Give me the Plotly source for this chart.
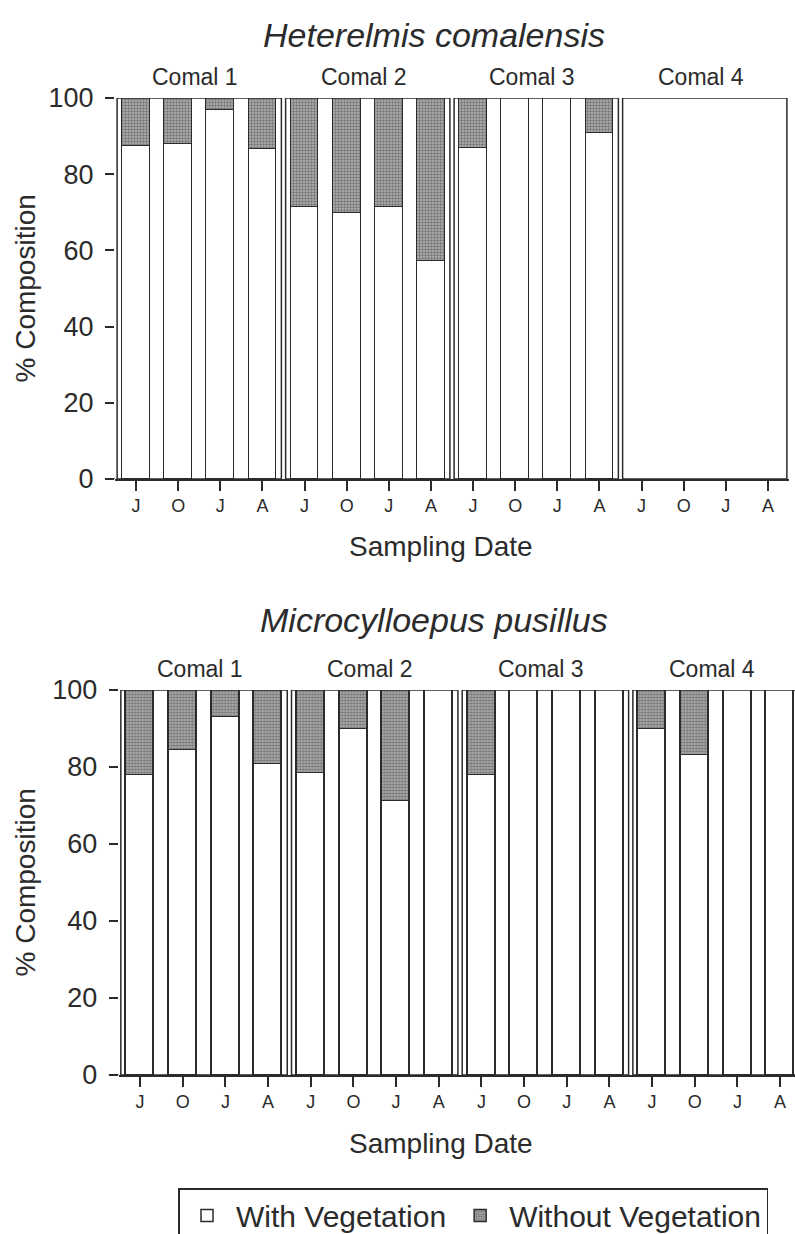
import plotly.graph_objects as go

# ---------------- data ----------------
sites = ["Comal 1", "Comal 2", "Comal 3", "Comal 4"]
months = ["J", "O", "J", "A"]

# Heterelmis comalensis (% composition)
hetero_with = [87.4, 88.0, 96.8, 86.6,
               71.4, 69.8, 71.4, 57.2,
               86.9, 100.0, 100.0, 90.8,
               None, None, None, None]
hetero_without = [12.6, 12.0, 3.2, 13.4,
                  28.6, 30.2, 28.6, 42.8,
                  13.1, 0.0, 0.0, 9.2,
                  None, None, None, None]

# Microcylloepus pusillus (% composition)
micro_with = [78.0, 84.4, 93.0, 80.8,
              78.4, 90.0, 71.2, 100.0,
              78.0, 100.0, 100.0, 100.0,
              90.0, 83.0, 100.0, 100.0]
micro_without = [22.0, 15.6, 7.0, 19.2,
                 21.6, 10.0, 28.8, 0.0,
                 22.0, 0.0, 0.0, 0.0,
                 10.0, 17.0, 0.0, 0.0]

titles = ["Heterelmis comalensis", "Microcylloepus pusillus"]
yticks = [0, 20, 40, 60, 80, 100]

# ---------------- styling ----------------
W, H = 795, 1234
INK = "#2b2b2b"
FONT = "Liberation Sans, Arial, sans-serif"
n = len(sites) * len(months)
xpos = list(range(n))
ticktext = months * len(sites)
BARW = 0.66

with_style = dict(color="white", line=dict(color=INK, width=1.5))
without_style = dict(color="#a8a8a8", line=dict(color=INK, width=1.5),
                     pattern=dict(shape=".", fgcolor="#333333", bgcolor="#b4b4b4",
                                  size=3, solidity=0.5, fillmode="overlay"))

fig = go.Figure()
panels = [(hetero_with, hetero_without, "x", "y"),
          (micro_with, micro_without, "x2", "y2")]
for i, (w, wo, xa, ya) in enumerate(panels):
    fig.add_trace(go.Bar(x=xpos, y=w, width=BARW, marker=with_style,
                         name="With Vegetation", legendgroup="w",
                         showlegend=(i == 0), xaxis=xa, yaxis=ya))
    fig.add_trace(go.Bar(x=xpos, y=wo, width=BARW, marker=without_style,
                         name="Without Vegetation", legendgroup="wo",
                         showlegend=(i == 0), xaxis=xa, yaxis=ya))

# panel geometry (pixels -> paper)
top_y = ((H - 479) / H, (H - 98) / H)
bot_y = ((H - 1075) / H, (H - 690) / H)
top_x = (115 / W, 789 / W)
bot_x = (118.7 / W, 1.0)
top_range = [-0.5, 15.5]
bot_range = [-0.5, -0.5 + (W - 118.7) / 42.67]

def xaxis(domain, rng, anchor):
    return dict(domain=list(domain), range=rng, anchor=anchor, automargin=False,
                tickvals=xpos, ticktext=ticktext, ticks="outside",
                ticklen=10, tickwidth=1.5, tickcolor=INK,
                showline=True, linecolor=INK, linewidth=1.5,
                showgrid=False, zeroline=False,
                tickfont=dict(size=18, color=INK, family=FONT))

def yaxis(domain, anchor):
    return dict(domain=list(domain), range=[0, 100], anchor=anchor,
                automargin=False,
                tickvals=yticks, ticks="outside", ticklen=9, tickwidth=1.5,
                tickcolor=INK, showline=False, showgrid=False, zeroline=False,
                ticklabelstandoff=6,
                tickfont=dict(size=27, color=INK, family=FONT))

fig.update_layout(
    width=W, height=H, barmode="stack", bargap=0,
    paper_bgcolor="white", plot_bgcolor="white",
    margin=dict(l=0, r=0, t=0, b=0, autoexpand=False),
    font=dict(family=FONT, color=INK),
    xaxis=xaxis(top_x, top_range, "y"),
    yaxis=yaxis(top_y, "x"),
    xaxis2=xaxis(bot_x, bot_range, "y2"),
    yaxis2=yaxis(bot_y, "x2"),
    legend=dict(orientation="h", x=178 / W, y=(H - 1188) / H,
                xanchor="left", yanchor="top",
                bordercolor=INK, borderwidth=1.5, bgcolor="white",
                font=dict(size=30, color=INK, family=FONT),
                itemwidth=48, tracegroupgap=0),
)

shapes = []
annotations = []
gap = 0.05
for p, (xa, ya, ydom, xdom) in enumerate([("x", "y", top_y, top_x),
                                           ("x2", "y2", bot_y, bot_x)]):
    # group boxes
    for g, site in enumerate(sites):
        x0 = g * len(months) - 0.5 + gap
        x1 = (g + 1) * len(months) - 0.5 - gap
        shapes.append(dict(type="rect", xref=xa, yref=ya, x0=x0, x1=x1,
                           y0=0, y1=100, line=dict(color=INK, width=1.5),
                           fillcolor="rgba(0,0,0,0)", layer="above"))
        annotations.append(dict(text=site, xref=xa, yref="paper",
                                x=(x0 + x1) / 2 - 0.1, y=ydom[1] + 21 / H,
                                xanchor="center", yanchor="middle",
                                showarrow=False,
                                font=dict(size=23, color=INK, family=FONT)))
    # x-axis line extension to the left of the first box
    shapes.append(dict(type="line", xref="paper", yref=ya,
                       x0=(xdom[0] * W - 10) / W, x1=xdom[0], y0=0, y1=0,
                       line=dict(color=INK, width=1.5)))
    # panel title
    annotations.append(dict(text="<i>" + titles[p] + "</i>", xref="paper",
                            yref="paper", x=434 / W,
                            y=ydom[1] + (63 if p == 0 else 70) / H,
                            xanchor="center", yanchor="middle", showarrow=False,
                            font=dict(size=34, color=INK, family=FONT)))
    # y-axis title
    annotations.append(dict(text="% Composition", xref="paper", yref="paper",
                            x=25 / W, y=(ydom[0] + ydom[1]) / 2, textangle=-90,
                            xanchor="center", yanchor="middle", showarrow=False,
                            font=dict(size=28, color=INK, family=FONT)))
    # x-axis title
    annotations.append(dict(text="Sampling Date", xref="paper", yref="paper",
                            x=441 / W, y=ydom[0] - 68 / H,
                            xanchor="center", yanchor="middle", showarrow=False,
                            font=dict(size=28, color=INK, family=FONT)))

fig.update_layout(shapes=shapes, annotations=annotations)
fig.write_html("out.html",
               config=dict(displayModeBar=False),
               post_script="document.body.style.margin='0';"
                           "document.body.style.overflow='hidden';")
